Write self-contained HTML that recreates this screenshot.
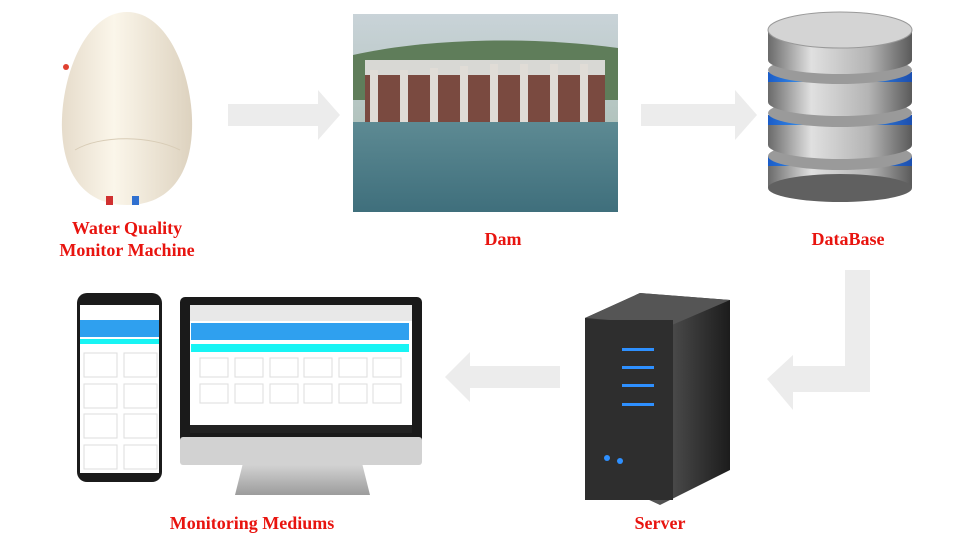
<!DOCTYPE html>
<html><head><style>
body{margin:0;background:#fff;width:960px;height:540px;overflow:hidden}
svg{display:block}
.l{font-family:"Liberation Serif",serif;font-weight:bold;font-size:18px;fill:#e8140f;text-anchor:middle}
</style></head><body>
<svg width="960" height="540" viewBox="0 0 960 540">
<defs>
<linearGradient id="egg" x1="0" x2="1"><stop offset="0" stop-color="#e6dccb"/><stop offset=".4" stop-color="#fbf6ea"/><stop offset="1" stop-color="#ddd2bf"/></linearGradient>
<linearGradient id="sky" x1="0" y1="0" x2="0" y2="1"><stop offset="0" stop-color="#c9d3d8"/><stop offset="1" stop-color="#9fb6a8"/></linearGradient>
<linearGradient id="wat" x1="0" y1="0" x2="0" y2="1"><stop offset="0" stop-color="#5d8a93"/><stop offset="1" stop-color="#3f6f7c"/></linearGradient>
<linearGradient id="cyl" x1="0" x2="1"><stop offset="0" stop-color="#6a6a6a"/><stop offset=".3" stop-color="#e0e0e0"/><stop offset=".7" stop-color="#b4b4b4"/><stop offset="1" stop-color="#5a5a5a"/></linearGradient>
<linearGradient id="blu" x1="0" x2="1"><stop offset="0" stop-color="#1a5cc8"/><stop offset=".4" stop-color="#4fb0ff"/><stop offset="1" stop-color="#1c4fb0"/></linearGradient>
<linearGradient id="srv" x1="0" x2="1"><stop offset="0" stop-color="#2a2a2a"/><stop offset=".5" stop-color="#555"/><stop offset="1" stop-color="#1c1c1c"/></linearGradient>
<linearGradient id="mon" x1="0" y1="0" x2="0" y2="1"><stop offset="0" stop-color="#e4e4e4"/><stop offset="1" stop-color="#9c9c9c"/></linearGradient>
</defs>
<g fill="#ececec">
<polygon points="228,104 318,104 318,90 340,115 318,140 318,126 228,126"/>
<polygon points="641,104 735,104 735,90 757,115 735,140 735,126 641,126"/>
<polygon points="845,270 870,270 870,392 793,392 793,410 767,379 793,355 793,366 845,366"/>
<polygon points="560,366 470,366 470,352 445,377 470,402 470,388 560,388"/>
</g>
<path d="M127,12 C170,12 194,80 192,130 C190,180 165,205 127,205 C89,205 64,180 62,130 C60,80 84,12 127,12Z" fill="url(#egg)"/>
<path d="M75,150 C100,135 150,135 180,150" stroke="#d8ccb6" fill="none"/>
<circle cx="66" cy="67" r="3" fill="#e04030"/>
<rect x="106" y="196" width="7" height="9" fill="#d03030"/><rect x="132" y="196" width="7" height="9" fill="#3070d0"/>
<rect x="353" y="14" width="265" height="198" fill="url(#sky)"/>
<path d="M353,55 C420,40 520,35 618,48 L618,100 L353,100Z" fill="#5f7d5a"/>
<rect x="365" y="60" width="240" height="15" fill="#d8d8d4"/>
<rect x="365" y="75" width="240" height="50" fill="#7a4a40"/>
<g fill="#e0dcd6"><rect x="370" y="70" width="8" height="55"/><rect x="400" y="70" width="8" height="55"/><rect x="430" y="68" width="8" height="57"/><rect x="460" y="66" width="8" height="59"/><rect x="490" y="64" width="8" height="61"/><rect x="520" y="64" width="8" height="61"/><rect x="550" y="64" width="8" height="61"/><rect x="580" y="64" width="8" height="61"/></g>
<rect x="353" y="122" width="265" height="90" fill="url(#wat)"/>
<!-- database: stacked disks -->
<g>
<rect x="768" y="158" width="144" height="30" fill="url(#cyl)"/><ellipse cx="840" cy="188" rx="72" ry="14" fill="#606060"/><rect x="768" y="156" width="144" height="10" fill="url(#blu)"/><ellipse cx="840" cy="156" rx="72" ry="14" fill="#9a9a9a"/>
<rect x="768" y="115" width="144" height="30" fill="url(#cyl)"/><ellipse cx="840" cy="145" rx="72" ry="14" fill="url(#cyl)"/><rect x="768" y="115" width="144" height="10" fill="url(#blu)"/><ellipse cx="840" cy="113" rx="72" ry="14" fill="#9a9a9a"/>
<rect x="768" y="72" width="144" height="30" fill="url(#cyl)"/><ellipse cx="840" cy="102" rx="72" ry="14" fill="url(#cyl)"/><rect x="768" y="72" width="144" height="10" fill="url(#blu)"/><ellipse cx="840" cy="70" rx="72" ry="14" fill="#9a9a9a"/>
<rect x="768" y="30" width="144" height="30" fill="url(#cyl)"/><ellipse cx="840" cy="60" rx="72" ry="14" fill="url(#cyl)"/>
<ellipse cx="840" cy="30" rx="72" ry="18" fill="#d4d4d4" stroke="#999"/>
</g>
<rect x="77" y="293" width="85" height="189" rx="10" fill="#1b1b1b"/>
<rect x="80" y="305" width="79" height="168" fill="#fff"/>
<rect x="80" y="320" width="79" height="17" fill="#2fa0ef"/>
<rect x="80" y="339" width="79" height="5" fill="#18f4f4"/>
<g fill="#fff" stroke="#ddd"><rect x="84" y="353" width="33" height="24"/><rect x="124" y="353" width="33" height="24"/><rect x="84" y="384" width="33" height="24"/><rect x="124" y="384" width="33" height="24"/><rect x="84" y="414" width="33" height="24"/><rect x="124" y="414" width="33" height="24"/><rect x="84" y="445" width="33" height="24"/><rect x="124" y="445" width="33" height="24"/></g>
<path d="M245,455 L360,455 L370,495 L235,495Z" fill="url(#mon)"/>
<rect x="180" y="297" width="242" height="165" rx="5" fill="#1a1a1a"/>
<rect x="180" y="437" width="242" height="28" rx="3" fill="#d2d2d2"/>
<rect x="190" y="305" width="222" height="128" fill="#fff"/>
<rect x="190" y="305" width="222" height="16" fill="#e8e8e8"/>
<rect x="191" y="323" width="218" height="17" fill="#2fa0ef"/>
<rect x="191" y="344" width="218" height="8" fill="#18f4f4"/>
<g fill="#fff" stroke="#ddd"><rect x="200" y="358" width="28" height="19"/><rect x="235" y="358" width="28" height="19"/><rect x="270" y="358" width="28" height="19"/><rect x="304" y="358" width="28" height="19"/><rect x="339" y="358" width="28" height="19"/><rect x="373" y="358" width="28" height="19"/>
<rect x="200" y="384" width="28" height="19"/><rect x="235" y="384" width="28" height="19"/><rect x="270" y="384" width="28" height="19"/><rect x="304" y="384" width="28" height="19"/><rect x="339" y="384" width="28" height="19"/><rect x="373" y="384" width="28" height="19"/></g>
<rect x="190" y="425" width="222" height="8" fill="#222"/>
<polygon points="585,318 640,293 730,300 730,470 660,505 585,470" fill="url(#srv)"/>
<polygon points="585,318 640,293 730,300 672,325" fill="#555"/>
<rect x="585" y="320" width="88" height="180" fill="#2e2e2e"/>
<g fill="#2e90ff"><rect x="622" y="348" width="32" height="3"/><rect x="622" y="366" width="32" height="3"/><rect x="622" y="384" width="32" height="3"/><rect x="622" y="403" width="32" height="3"/></g>
<circle cx="607" cy="458" r="3" fill="#2e90ff"/><circle cx="620" cy="461" r="3" fill="#2e90ff"/>
<text class="l" x="127" y="234">Water Quality</text>
<text class="l" x="127" y="256">Monitor Machine</text>
<text class="l" x="503" y="245">Dam</text>
<text class="l" x="848" y="245">DataBase</text>
<text class="l" x="252" y="529">Monitoring Mediums</text>
<text class="l" x="660" y="529">Server</text>
</svg>
</body></html>
